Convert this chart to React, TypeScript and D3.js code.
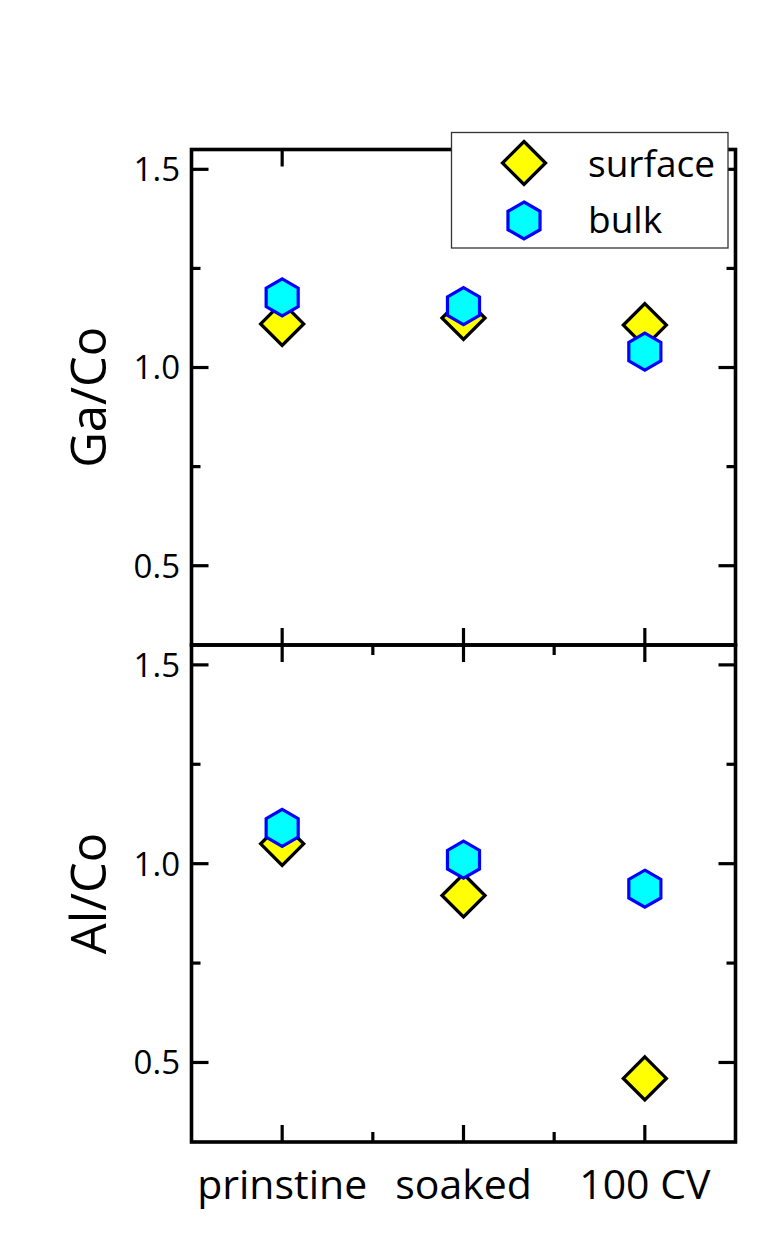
import React from 'react';
import * as d3 from 'd3';

// Sample conditions along the x axis
const categories = ['prinstine', 'soaked', '100 CV'];

// Ga/Co ratios (upper panel)
const gaSurface = [1.11, 1.125, 1.107];
const gaBulk = [1.177, 1.155, 1.04];

// Al/Co ratios (lower panel)
const alSurface = [1.05, 0.92, 0.46];
const alBulk = [1.09, 1.01, 0.937];

// Axis ticks
const yMajorTicks = [0.5, 1.0, 1.5];
const yMinorTicks = [0.75, 1.25];
const yTickLabels = ['0.5', '1.0', '1.5'];
const xMinorTicks = [1.5, 2.5];
const yDomain: [number, number] = [0.3, 1.55];

const seriesNames = ['surface', 'bulk'];

const W = 767;
const H = 1237;
const LEFT = 191.5;
const RIGHT = 735.5;
const TOP = 149.5;
const MID = 645;
const BOTTOM = 1142;

const FONT = "'Open Sans', 'Noto Sans', sans-serif";
const MAJOR = 17;
const MINOR = 9;

const x = d3.scaleLinear().domain([0.5, categories.length + 0.5]).range([LEFT, RIGHT]);

const diamondPath = (r: number) => `M0,${-r}L${r},0L0,${r}L${-r},0Z`;
const hexPath = (r: number) => {
  const pts = d3.range(6).map((i) => {
    const a = (Math.PI / 3) * i - Math.PI / 2;
    return [r * Math.cos(a), r * Math.sin(a)];
  });
  return 'M' + pts.map((p) => p.join(',')).join('L') + 'Z';
};

const DIAMOND = diamondPath(21.5);
const HEX = hexPath(18.5);

function Diamond({ cx, cy }: { cx: number; cy: number }) {
  return (
    <path d={DIAMOND} transform={`translate(${cx},${cy})`} fill="#ffff00" stroke="#000" strokeWidth={3.3} strokeLinejoin="miter" />
  );
}

function Hexagon({ cx, cy }: { cx: number; cy: number }) {
  return <path d={HEX} transform={`translate(${cx},${cy})`} fill="#00ffff" stroke="#0000ff" strokeWidth={3.2} />;
}

type PanelProps = {
  top: number;
  bottom: number;
  surface: number[];
  bulk: number[];
  title: string;
  xMinor: boolean;
};

function Panel({ top, bottom, surface, bulk, title, xMinor }: PanelProps) {
  const y = d3.scaleLinear().domain(yDomain).range([bottom, top]);
  const midY = (top + bottom) / 2;
  const tickStroke = { stroke: '#000', strokeWidth: 3.2 };
  return (
    <g>
      {/* y ticks, inward on both sides */}
      {yMajorTicks.map((t, i) => (
        <g key={'ym' + t}>
          <line x1={LEFT} x2={LEFT + MAJOR} y1={y(t)} y2={y(t)} {...tickStroke} />
          <line x1={RIGHT} x2={RIGHT - MAJOR} y1={y(t)} y2={y(t)} {...tickStroke} />
          <text x={180} y={y(t)} dy="0.36em" textAnchor="end" fontFamily={FONT} fontSize={33} fill="#000">
            {yTickLabels[i]}
          </text>
        </g>
      ))}
      {yMinorTicks.map((t) => (
        <g key={'yn' + t}>
          <line x1={LEFT} x2={LEFT + MINOR} y1={y(t)} y2={y(t)} {...tickStroke} />
          <line x1={RIGHT} x2={RIGHT - MINOR} y1={y(t)} y2={y(t)} {...tickStroke} />
        </g>
      ))}
      {/* x ticks, inward at top and bottom */}
      {categories.map((c, i) => (
        <g key={'xm' + c}>
          <line x1={x(i + 1)} x2={x(i + 1)} y1={top} y2={top + MAJOR} {...tickStroke} />
          <line x1={x(i + 1)} x2={x(i + 1)} y1={bottom} y2={bottom - MAJOR} {...tickStroke} />
        </g>
      ))}
      {xMinor &&
        xMinorTicks.map((t) => (
          <g key={'xn' + t}>
            <line x1={x(t)} x2={x(t)} y1={top} y2={top + MINOR + 1} {...tickStroke} />
            <line x1={x(t)} x2={x(t)} y1={bottom} y2={bottom - MINOR - 1} {...tickStroke} />
          </g>
        ))}
      {/* frame */}
      <rect x={LEFT} y={top} width={RIGHT - LEFT} height={bottom - top} fill="none" stroke="#000" strokeWidth={3.6} />
      {/* axis title */}
      <text
        transform={`translate(106,${midY}) rotate(-90)`}
        textAnchor="middle"
        fontFamily={FONT}
        fontSize={49}
        fill="#000"
      >
        {title}
      </text>
      {/* data: surface under bulk */}
      {surface.map((v, i) => (
        <Diamond key={'s' + i} cx={x(i + 1)} cy={y(v)} />
      ))}
      {bulk.map((v, i) => (
        <Hexagon key={'b' + i} cx={x(i + 1)} cy={y(v)} />
      ))}
    </g>
  );
}

export default function App() {
  return (
    <svg
      width={W}
      height={H}
      viewBox={`0 0 ${W} ${H}`}
      style={{ position: 'absolute', left: 0, top: 0, background: '#fff' }}
    >
      <rect x={0} y={0} width={W} height={H} fill="#fff" />
      <Panel top={MID} bottom={BOTTOM} surface={alSurface} bulk={alBulk} title="Al/Co" xMinor={true} />
      <Panel top={TOP} bottom={MID} surface={gaSurface} bulk={gaBulk} title="Ga/Co" xMinor={false} />
      {/* category labels */}
      {categories.map((c, i) => (
        <text key={c} x={x(i + 1)} y={1199} textAnchor="middle" fontFamily={FONT} fontSize={41} fill="#000">
          {c}
        </text>
      ))}
      {/* legend */}
      <g>
        <rect x={451.5} y={132.5} width={276.5} height={115.5} fill="#fff" stroke="#333" strokeWidth={1.3} />
        <Diamond cx={524} cy={163} />
        <Hexagon cx={524} cy={220.5} />
        <text x={588} y={176.5} fontFamily={FONT} fontSize={37} fill="#000">
          {seriesNames[0]}
        </text>
        <text x={588} y={233} fontFamily={FONT} fontSize={37} fill="#000">
          {seriesNames[1]}
        </text>
      </g>
    </svg>
  );
}
